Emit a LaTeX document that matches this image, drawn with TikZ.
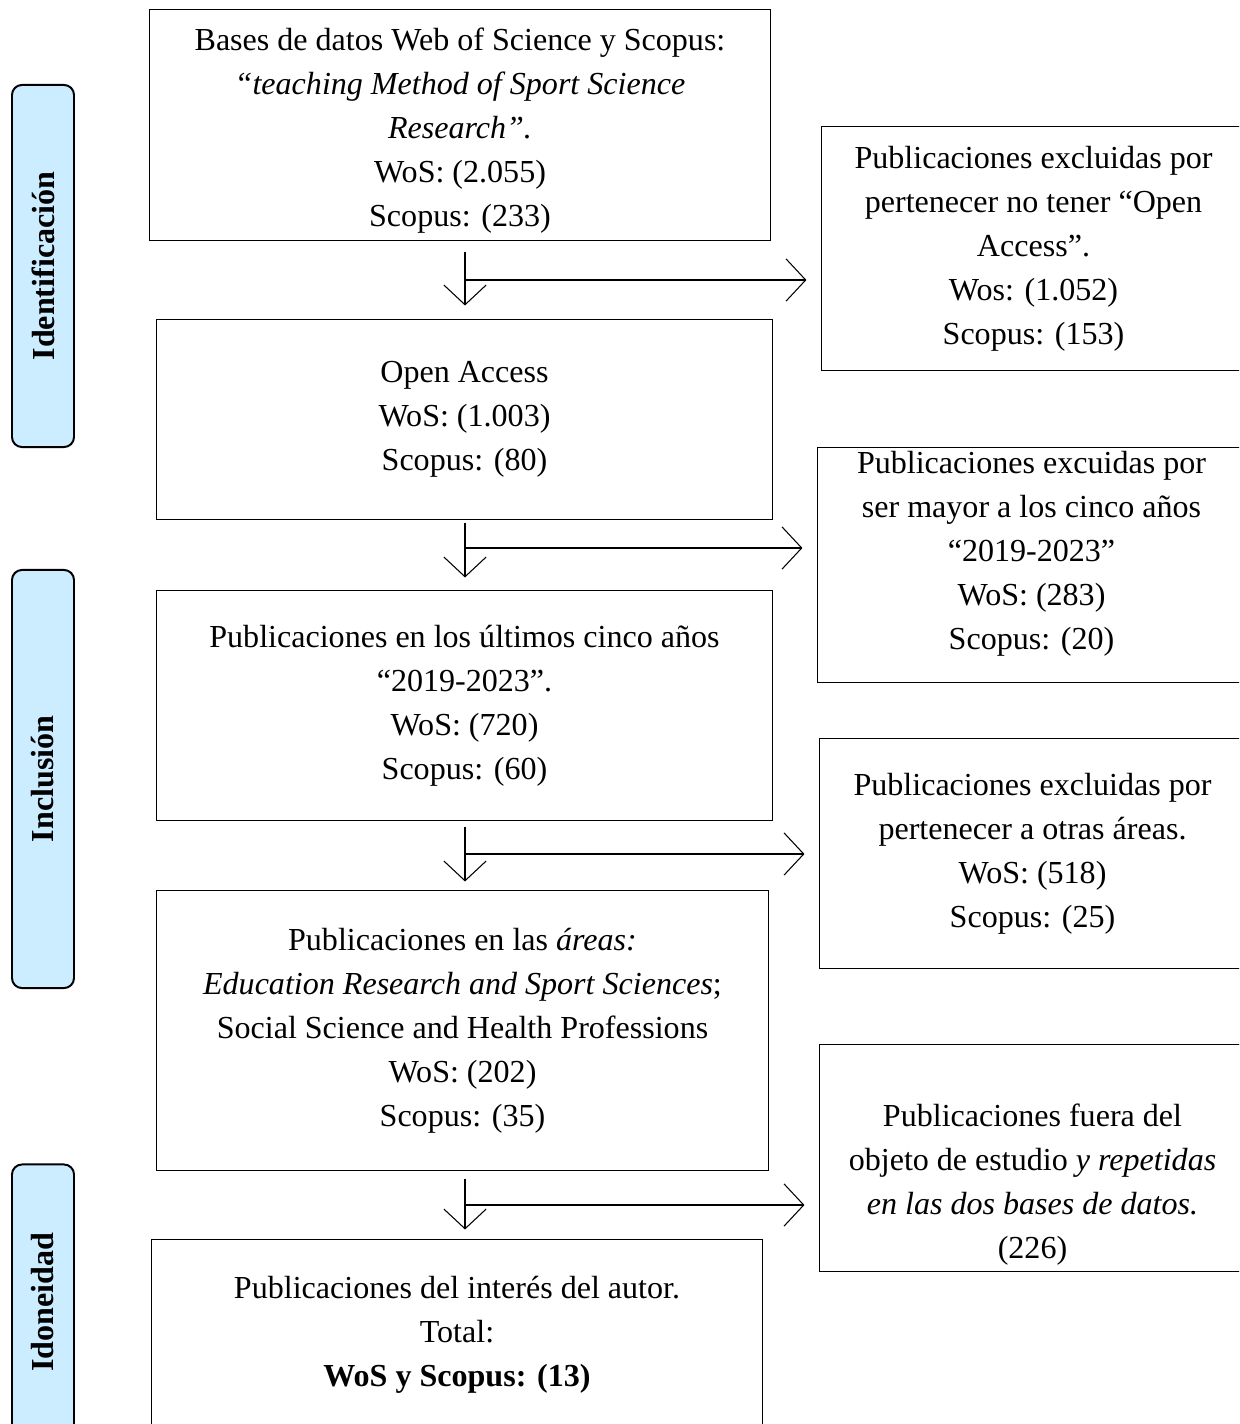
\documentclass[tikz,border=0pt]{standalone}
\usepackage{fontspec}
\setmainfont{Liberation Serif}
\usepackage{tikz}
\usetikzlibrary{arrows.meta,calc}
\definecolor{azulfase}{RGB}{204,236,255}
\def\eje{465}
\tikzstyle{flecha} = [line width=0.75pt,-{Straight Barb[length=14pt,width=30pt]}]

\begin{document}
\begin{tikzpicture}[x=0.025cm,y=-0.025cm]
    \tikzstyle{caja}=[draw=black, line width=0.7pt, align=center, inner sep=0pt, font=\fontsize{22.8}{31.3}\selectfont]
    \tikzstyle{fase}=[draw=black, fill=azulfase, line width=1.4pt, rounded corners=0.25cm, rotate=90, minimum height=1.55cm, font=\bfseries\fontsize{22.8}{31.3}\selectfont]

    \useasboundingbox (0,0) rectangle (1239,1424);
    \clip (0,0) rectangle (1239,1424);

    % Draw the phase labels
    \node[fase, minimum width=9.05cm] (F-1) at (43,266) {Identificación};
    \node[fase, minimum width=10.45cm] (F-2) at (43,779) {Inclusión};
    \node[fase, minimum width=6.875cm] (F-3) at (43,1302) {Idoneidad};

    % Draw the main column
    \node[caja, minimum width=15.5cm, minimum height=5.75cm] (B-1) at (460,125)
        {\rule{0pt}{0.85cm}Bases de datos Web of Science y Scopus:\\ \textit{“teaching Method of Sport Science}\\ \textit{Research”.}\\ WoS: (2.055)\\ Scopus: (233)};
    \node[caja, minimum width=15.375cm, minimum height=4.975cm] (B-2) at (464.5,419.5)
        {Open Access\\ WoS: (1.003)\\ Scopus: (80)};
    \node[caja, minimum width=15.375cm, minimum height=5.725cm] (B-3) at (464.5,705.5)
        {Publicaciones en los últimos cinco años\\ “2019-2023”.\\ WoS: (720)\\ Scopus: (60)};
    \node[caja, minimum width=15.275cm, minimum height=6.975cm] (B-4) at (462.5,1030.5)
        {Publicaciones en las \textit{áreas:}\\ \textit{Education Research and Sport Sciences};\\ Social Science and Health Professions\\ WoS: (202)\\ Scopus: (35)};
    \node[caja, minimum width=15.25cm, minimum height=4.75cm] (B-5) at (457,1335)
        {Publicaciones del interés del autor.\\ Total:\\ \textbf{WoS y Scopus: (13)}};

    % Draw the excluded column
    \node[caja, minimum width=10.575cm, minimum height=6.075cm] (E-1) at (1033.5,248.5)
        {Publicaciones excluidas por\\ pertenecer no tener “Open\\ Access”.\\ Wos: (1.052)\\ Scopus: (153)};
    \node[caja, minimum width=10.675cm, minimum height=5.85cm] (E-2) at (1031.5,565)
        {Publicaciones excuidas por\\ ser mayor a los cinco años\\ “2019-2023”\\ WoS: (283)\\ Scopus: (20)\rule[-0.75cm]{0pt}{0pt}};
    \node[caja, minimum width=10.625cm, minimum height=5.725cm] (E-3) at (1032.5,853.5)
        {Publicaciones excluidas por\\ pertenecer a otras áreas.\\ WoS: (518)\\ Scopus: (25)};
    \node[caja, minimum width=10.625cm, minimum height=5.65cm] (E-4) at (1032.5,1158)
        {\rule{0pt}{1.9cm}Publicaciones fuera del\\ objeto de estudio \textit{y repetidas}\\ \textit{en las dos bases de datos.}\\ (226)};

    % Draw the arrows
    \foreach \a/\b/\y/\s/\t in {1/2/280/0.275cm/0.35cm, 2/3/548/0.075cm/0.325cm, 3/4/854/0.15cm/0.225cm, 4/5/1205/0.2cm/0.25cm}
    {
        \coordinate (M-\a) at (\eje,\y);
        \draw[flecha, shorten <=\s, shorten >=\t] (B-\a.south -| M-\a) -- (B-\b.north -| M-\a);
        \draw[flecha, shorten >=0.375cm] (M-\a) -- (E-\a.west |- M-\a);
    }
\end{tikzpicture}
\end{document}
